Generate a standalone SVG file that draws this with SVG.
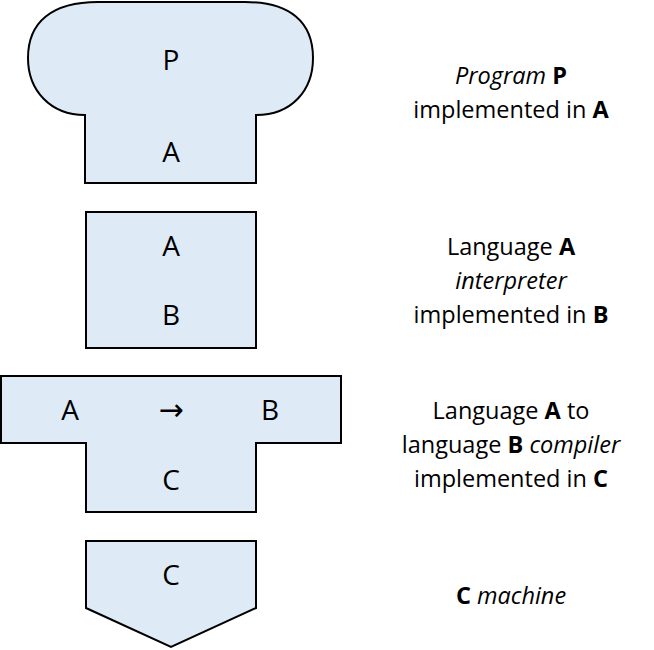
<svg xmlns="http://www.w3.org/2000/svg" width="654" height="650" viewBox="0 0 654 650">
<style>
.shape{fill:#deebf7;stroke:#000;stroke-width:2;stroke-linejoin:miter}
.lbl{font-family:"Open Sans","Noto Sans",sans-serif;font-size:28px;text-anchor:middle;fill:#000}
.arr{font-family:"DejaVu Sans",sans-serif;font-size:30px;text-anchor:middle;fill:#000}
.cap{font-family:"Open Sans","Noto Sans",sans-serif;font-size:23.5px;text-anchor:middle;fill:#000}
.b{font-weight:bold}
.i{font-style:italic}
</style>
<rect width="654" height="650" fill="#fff"/>
<g id="program">
<path class="shape" d="M85,115 L85,183 L256,183 L256,115 C292,115 313,90 313,58 C313,22 290,2 245,2 L98,2 C52,2 28,22 28,58 C28,90 50,115 85,115 Z"/>
<text class="lbl" x="171" y="70">P</text>
<text class="lbl" x="171" y="162">A</text>
</g>
<g id="interpreter">
<rect class="shape" x="86" y="212" width="170" height="136"/>
<text class="lbl" x="171" y="256">A</text>
<text class="lbl" x="171" y="325">B</text>
</g>
<g id="compiler">
<path class="shape" d="M1,376 L341,376 L341,443 L256,443 L256,512 L86,512 L86,443 L1,443 Z"/>
<text class="lbl" x="70" y="420">A</text>
<text class="arr" x="171" y="420">→</text>
<text class="lbl" x="270" y="420">B</text>
<text class="lbl" x="171" y="490">C</text>
</g>
<g id="machine">
<path class="shape" d="M86,541 L256,541 L256,608 L171,647 L86,608 Z"/>
<text class="lbl" x="171" y="585">C</text>
</g>
<g id="captions">
<text class="cap" x="511" y="84"><tspan class="i">Program</tspan> <tspan class="b">P</tspan></text>
<text class="cap" x="511" y="118">implemented in <tspan class="b">A</tspan></text>
<text class="cap" x="511" y="255">Language <tspan class="b">A</tspan></text>
<text class="cap i" x="511" y="289">interpreter</text>
<text class="cap" x="511" y="323">implemented in <tspan class="b">B</tspan></text>
<text class="cap" x="511" y="419">Language <tspan class="b">A</tspan> to</text>
<text class="cap" x="511" y="453">language <tspan class="b">B</tspan> <tspan class="i">compiler</tspan></text>
<text class="cap" x="511" y="487">implemented in <tspan class="b">C</tspan></text>
<text class="cap" x="511" y="604"><tspan class="b">C</tspan> <tspan class="i">machine</tspan></text>
</g>
<g id="connectors"></g>
</svg>
